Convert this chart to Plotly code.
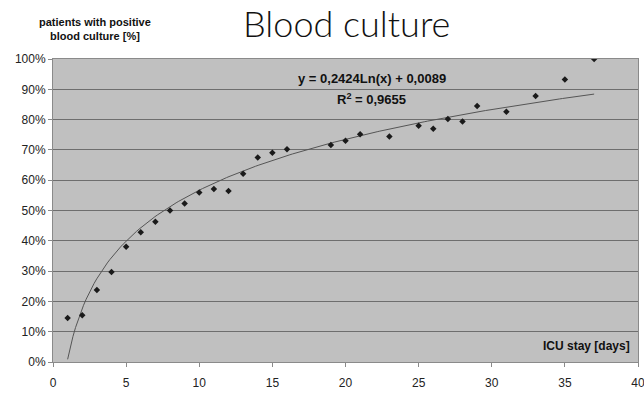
import numpy as np
import plotly.graph_objects as go

# ICU stay [days] and % of patients with positive blood culture
days = [1, 2, 3, 4, 5, 6, 7, 8, 9, 10, 11, 12, 13, 14, 15, 16, 19, 20, 21, 23,
        25, 26, 27, 28, 29, 31, 33, 35, 37]
positive_pct = [14.5, 15.4, 23.8, 29.7, 38.0, 42.8, 46.3, 50.0, 52.3, 55.9, 57.1,
                56.4, 62.1, 67.5, 69.1, 70.2, 71.6, 73.0, 75.2, 74.4, 78.0, 77.0,
                80.2, 79.4, 84.5, 82.6, 87.8, 93.2, 100.0]

# logarithmic trendline coefficients shown on the chart
trend_a = 0.2424
trend_b = 0.0089
trend_x = np.linspace(1, 37, 200)
trend_y = (trend_a * np.log(trend_x) + trend_b) * 100

x_ticks = [0, 5, 10, 15, 20, 25, 30, 35, 40]
y_ticks = [0, 10, 20, 30, 40, 50, 60, 70, 80, 90, 100]
y_tick_text = [f"{v}%" for v in y_ticks]

FONT = "Liberation Sans, Arial, sans-serif"

fig = go.Figure()
fig.add_trace(go.Scatter(x=trend_x, y=trend_y, mode="lines",
                         line=dict(color="#555555", width=1), hoverinfo="skip",
                         showlegend=False))
fig.add_trace(go.Scatter(x=days, y=positive_pct, mode="markers",
                         marker=dict(symbol="diamond", size=5, color="#1a1a1a"),
                         showlegend=False))

fig.update_layout(
    width=644, height=406, autosize=False,
    margin=dict(l=53, r=6, t=59, b=44),
    paper_bgcolor="white", plot_bgcolor="#c0c0c0",
    font=dict(family=FONT, size=12, color="#222222"),
    xaxis=dict(range=[0, 40], tickvals=x_ticks, showgrid=False, zeroline=False,
               automargin=False, ticklabeloverflow="allow",
               showline=True, linecolor="#8a8a8a", linewidth=1, mirror=True,
               ticks="outside", ticklen=4, tickcolor="#8a8a8a",
               ticklabelstandoff=6, tickfont=dict(size=12, color="#222222")),
    yaxis=dict(range=[0, 100], tickvals=y_ticks, ticktext=y_tick_text,
               automargin=False, ticklabeloverflow="allow",
               showgrid=True, gridcolor="#6e6e6e", gridwidth=1, zeroline=False,
               showline=True, linecolor="#8a8a8a", linewidth=1, mirror=True,
               ticks="outside", ticklen=4, tickcolor="#8a8a8a",
               tickfont=dict(size=12, color="#222222")),
    annotations=[
        dict(text="Blood culture", xref="paper", yref="paper", x=0.501, y=1.0,
             yshift=36.5, showarrow=False, xanchor="center", yanchor="middle",
             font=dict(family="Lato, Liberation Sans, sans-serif", size=36,
                       color="#111111", weight=300)),
        dict(text="<b>patients with positive<br>blood culture [%]</b>", xref="paper",
             yref="paper", x=0.072, y=1.0, yshift=30, showarrow=False,
             xanchor="center", yanchor="middle", align="center",
             font=dict(size=11, color="#111111")),
        dict(text="<b>y = 0,2424Ln(x) + 0,0089</b>", xref="x", yref="y",
             x=21.8, y=93.5, showarrow=False, xanchor="center", yanchor="middle",
             font=dict(size=13, color="#111111")),
        dict(text="<b>R<sup>2</sup> = 0,9655</b>", xref="x", yref="y",
             x=21.8, y=86.9, showarrow=False, xanchor="center", yanchor="middle",
             font=dict(size=13, color="#111111")),
        dict(text="<b>ICU stay [days]</b>", xref="paper", yref="y",
             x=0.99, y=5.3, showarrow=False, xanchor="right", yanchor="middle",
             font=dict(size=12, color="#111111")),
    ],
)

fig.write_html(
    "out.html",
    config={"displayModeBar": False},
    post_script="document.body.style.margin='0';document.body.style.overflow='hidden';",
)
